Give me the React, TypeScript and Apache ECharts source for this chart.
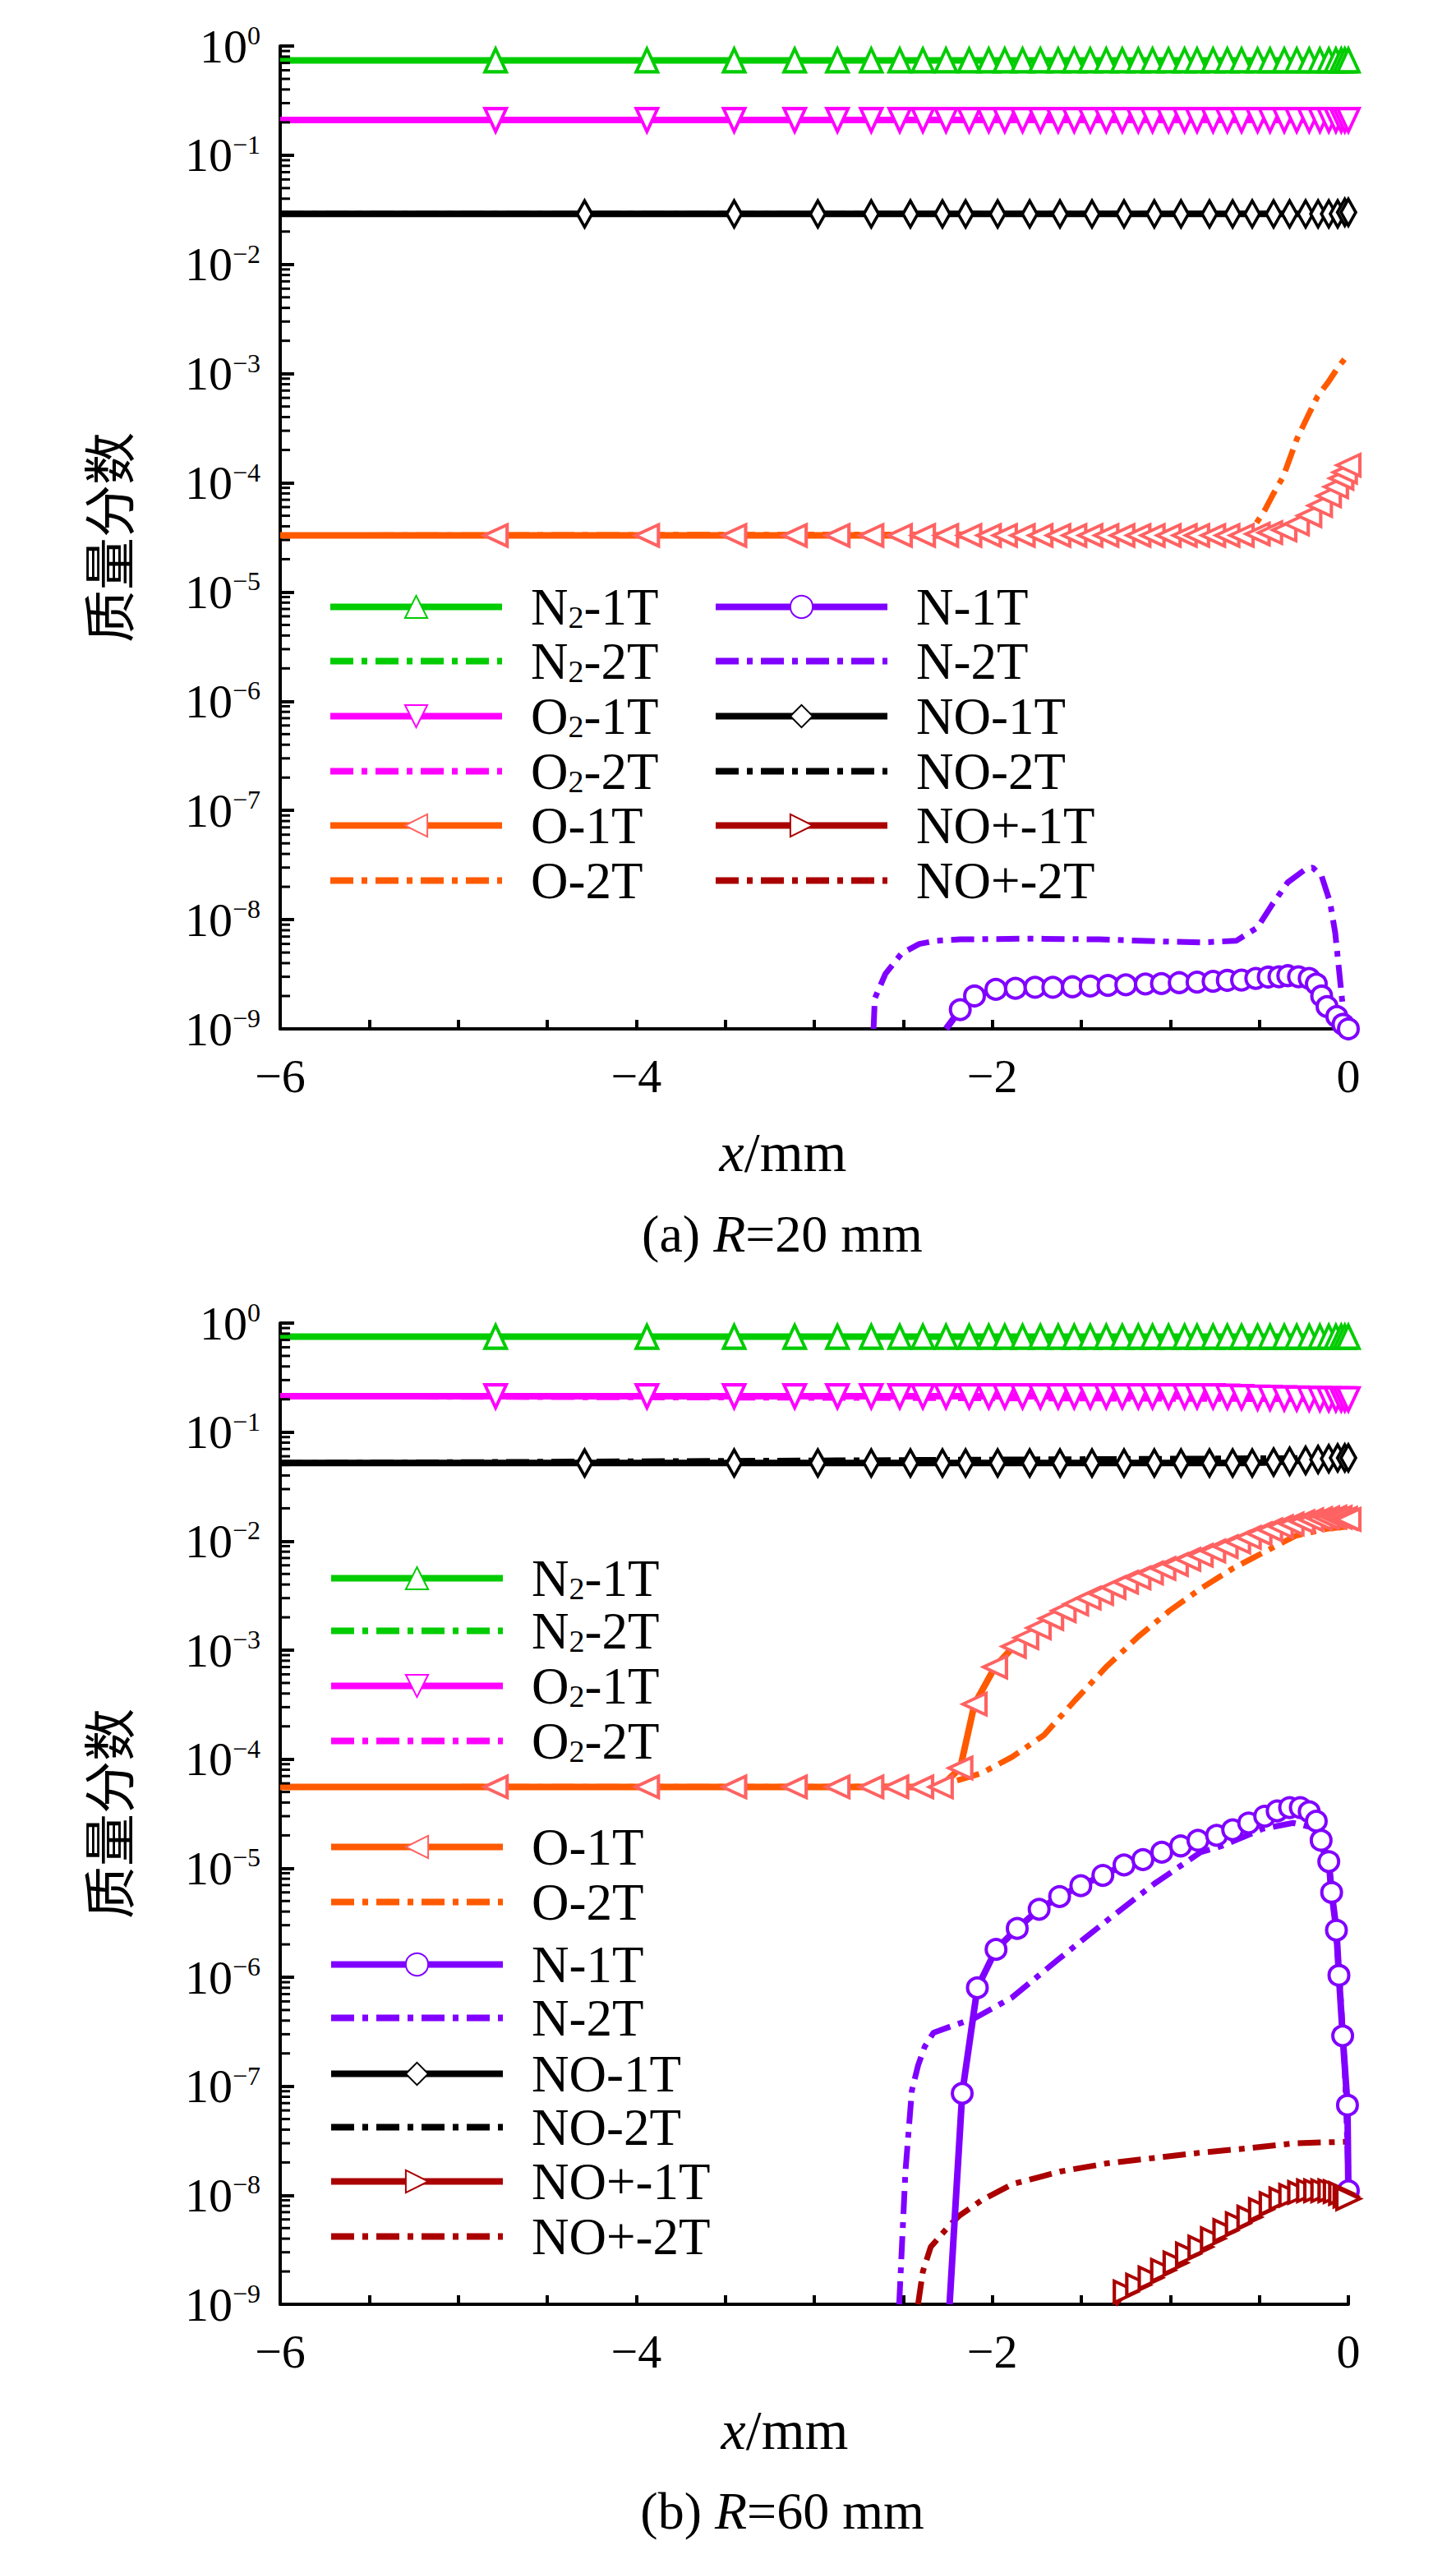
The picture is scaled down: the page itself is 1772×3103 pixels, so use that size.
import React, { useEffect, useRef } from 'react';
import * as echarts from 'echarts';

// ---- data (x in mm, values are mass fractions) ----

// grid points that carry markers on the flat curves
const xMesh = [-6, -4.79, -3.94, -3.45, -3.11, -2.87, -2.68, -2.52, -2.39, -2.26, -2.13, -2.02, -1.93, -1.83, -1.73,
  -1.63, -1.54, -1.45, -1.36, -1.27, -1.18, -1.1, -1.01, -0.92, -0.85, -0.76, -0.68, -0.6, -0.51, -0.44, -0.36,
  -0.29, -0.22, -0.16, -0.11, -0.07, -0.04, -0.02, 0];
const xNO = [-6, -4.29, -3.45, -2.98, -2.68, -2.46, -2.28, -2.15, -1.97, -1.79, -1.62, -1.44, -1.26, -1.09, -0.94,
  -0.78, -0.65, -0.54, -0.42, -0.33, -0.24, -0.17, -0.11, -0.06, -0.02, 0];
const xEnds = [-6, 0];

// (a) R = 20 mm
const aN2 = [0.74, 0.74, 0.74, 0.74, 0.74, 0.74, 0.74, 0.74, 0.74, 0.74, 0.74, 0.74, 0.74, 0.74, 0.74, 0.74, 0.74,
  0.74, 0.74, 0.74, 0.74, 0.74, 0.74, 0.74, 0.74, 0.74, 0.74, 0.74, 0.74, 0.74, 0.74, 0.74, 0.74, 0.74, 0.74, 0.74,
  0.74, 0.74, 0.74];
const aN2Flat = [0.74, 0.74];
const aO2 = [0.21, 0.21, 0.21, 0.21, 0.21, 0.21, 0.21, 0.21, 0.21, 0.21, 0.21, 0.21, 0.21, 0.21, 0.21, 0.21, 0.21,
  0.21, 0.21, 0.21, 0.21, 0.21, 0.21, 0.21, 0.21, 0.21, 0.21, 0.21, 0.21, 0.21, 0.21, 0.21, 0.21, 0.21, 0.21, 0.21,
  0.21, 0.21, 0.21];
const aO2Flat = [0.21, 0.21];
const aNO = [0.029, 0.029, 0.029, 0.029, 0.029, 0.029, 0.029, 0.029, 0.029, 0.029, 0.029, 0.029, 0.029, 0.029, 0.029,
  0.029, 0.029, 0.029, 0.029, 0.029, 0.029, 0.029, 0.029, 0.029, 0.03, 0.03];
const aNOFlat = [0.029, 0.029];
const aO1T = [3.3e-5, 3.3e-5, 3.3e-5, 3.3e-5, 3.3e-5, 3.3e-5, 3.3e-5, 3.3e-5, 3.3e-5, 3.3e-5, 3.3e-5, 3.3e-5, 3.3e-5,
  3.3e-5, 3.3e-5, 3.3e-5, 3.3e-5, 3.3e-5, 3.3e-5, 3.3e-5, 3.3e-5, 3.3e-5, 3.3e-5, 3.3e-5, 3.3e-5, 3.3e-5, 3.3e-5,
  3.3e-5, 3.4e-5, 3.5e-5, 3.7e-5, 4.2e-5, 5.0e-5, 6.2e-5, 7.6e-5, 9.2e-5, 1.1e-4, 1.25e-4, 1.45e-4];
const aO2Tx = [-6, -0.6, -0.52, -0.47, -0.42, -0.365, -0.29, -0.224, -0.173, -0.11, -0.057, 0];
const aO2T = [3.3e-5, 3.4e-5, 4.2e-5, 5.6e-5, 8.0e-5, 1.15e-4, 2.5e-4, 4.2e-4, 6.2e-4, 8.5e-4, 1.15e-3, 1.5e-3];
const aN1Tx = [-2.26, -2.18, -2.1, -1.98, -1.87, -1.76, -1.66, -1.55, -1.45, -1.35, -1.25, -1.14, -1.05, -0.95, -0.85,
  -0.76, -0.68, -0.6, -0.52, -0.45, -0.39, -0.34, -0.28, -0.22, -0.18, -0.15, -0.12, -0.065, -0.03, 0];
const aN1T = [1e-9, 1.5e-9, 2.0e-9, 2.3e-9, 2.35e-9, 2.4e-9, 2.4e-9, 2.43e-9, 2.47e-9, 2.5e-9, 2.53e-9, 2.58e-9,
  2.6e-9, 2.65e-9, 2.68e-9, 2.73e-9, 2.78e-9, 2.8e-9, 2.9e-9, 2.98e-9, 3.0e-9, 3.07e-9, 3.0e-9, 2.9e-9, 2.58e-9,
  2.0e-9, 1.6e-9, 1.3e-9, 1.1e-9, 1e-9];
const aN2Tx = [-2.667, -2.66, -2.6, -2.51, -2.41, -2.32, -2.18, -1.79, -1.4, -1.02, -0.82, -0.63, -0.51, -0.43, -0.34,
  -0.24, -0.2, -0.15, -0.103, -0.074, -0.055, -0.036, -0.015];
const aN2T = [1e-9, 1.9e-9, 3.2e-9, 4.9e-9, 6.0e-9, 6.4e-9, 6.6e-9, 6.7e-9, 6.6e-9, 6.3e-9, 6.2e-9, 6.4e-9, 8.5e-9,
  1.36e-8, 2.2e-8, 2.9e-8, 3.0e-8, 2.5e-8, 1.45e-8, 7.6e-9, 3.8e-9, 1.9e-9, 1e-9];
const aNOp: number[] = []; // NO+ stays below 1e-9 in (a)

// (b) R = 60 mm
const bN2 = [0.75, 0.75, 0.75, 0.75, 0.75, 0.75, 0.75, 0.75, 0.75, 0.75, 0.75, 0.75, 0.75, 0.75, 0.75, 0.75, 0.75,
  0.75, 0.75, 0.75, 0.75, 0.75, 0.75, 0.75, 0.75, 0.75, 0.75, 0.75, 0.75, 0.75, 0.75, 0.75, 0.75, 0.75, 0.75, 0.75,
  0.75, 0.75, 0.75];
const bN2Flat = [0.75, 0.75];
const bO2 = [0.213, 0.213, 0.213, 0.213, 0.213, 0.213, 0.213, 0.213, 0.213, 0.213, 0.213, 0.213, 0.213, 0.213, 0.213,
  0.213, 0.213, 0.213, 0.213, 0.213, 0.213, 0.213, 0.213, 0.213, 0.213, 0.213, 0.211, 0.209, 0.207, 0.206, 0.204,
  0.203, 0.202, 0.201, 0.2, 0.2, 0.2, 0.2, 0.2];
const bO2Flat = [0.213, 0.2];
const bNO = [0.052, 0.052, 0.052, 0.052, 0.052, 0.052, 0.052, 0.052, 0.052, 0.052, 0.052, 0.052, 0.052, 0.052, 0.052,
  0.052, 0.052, 0.052, 0.053, 0.054, 0.055, 0.056, 0.057, 0.058, 0.058, 0.058];
const bNOFlat = [0.052, 0.058];
const bO1Tx = [-6, -4.79, -3.94, -3.45, -3.11, -2.87, -2.68, -2.54, -2.4, -2.29, -2.18, -2.1, -1.985, -1.88, -1.81,
  -1.74, -1.67, -1.6, -1.53, -1.46, -1.39, -1.32, -1.25, -1.18, -1.11, -1.04, -0.97, -0.9, -0.83, -0.76, -0.69, -0.62,
  -0.56, -0.5, -0.44, -0.38, -0.32, -0.26, -0.21, -0.16, -0.12, -0.08, -0.05, -0.02, 0];
const bO1T = [5.56e-5, 5.56e-5, 5.56e-5, 5.56e-5, 5.56e-5, 5.56e-5, 5.56e-5, 5.56e-5, 5.56e-5, 5.56e-5, 8.3e-5, 3.2e-4,
  7.0e-4, 1.08e-3, 1.3e-3, 1.6e-3, 1.95e-3, 2.3e-3, 2.65e-3, 3.0e-3, 3.3e-3, 3.75e-3, 4.2e-3, 4.6e-3, 5.1e-3, 5.6e-3,
  6.1e-3, 6.8e-3, 7.4e-3, 8.1e-3, 8.9e-3, 9.8e-3, 1.08e-2, 1.17e-2, 1.27e-2, 1.36e-2, 1.44e-2, 1.51e-2, 1.57e-2,
  1.61e-2, 1.64e-2, 1.66e-2, 1.65e-2, 1.62e-2, 1.58e-2];
const bO2Tx = [-6, -2.3, -2.223, -2.063, -1.888, -1.71, -1.533, -1.357, -1.18, -1.004, -0.826, -0.65, -0.475, -0.297,
  -0.12, 0];
const bO2T = [5.56e-5, 5.6e-5, 6.2e-5, 7.4e-5, 1.05e-4, 1.66e-4, 3.5e-4, 7.1e-4, 1.33e-3, 2.3e-3, 3.7e-3, 5.6e-3,
  7.9e-3, 1.12e-2, 1.3e-2, 1.36e-2];
const bN1Tx = [-2.24, -2.169, -2.084, -1.979, -1.86, -1.737, -1.622, -1.503, -1.379, -1.26, -1.154, -1.048, -0.942,
  -0.845, -0.74, -0.65, -0.56, -0.47, -0.4, -0.33, -0.27, -0.22, -0.18, -0.153, -0.11, -0.094, -0.067, -0.053,
  -0.032, -0.005, 0];
const bN1T = [1e-9, 8.6e-8, 8.0e-7, 1.8e-6, 2.8e-6, 4.2e-6, 5.5e-6, 6.9e-6, 8.6e-6, 1.07e-5, 1.2e-5, 1.4e-5, 1.6e-5,
  1.8e-5, 2.0e-5, 2.25e-5, 2.6e-5, 3.0e-5, 3.35e-5, 3.6e-5, 3.6e-5, 3.3e-5, 2.7e-5, 1.8e-5, 1.15e-5, 6.0e-6,
  2.7e-6, 1.04e-6, 2.9e-7, 6.7e-8, 1.1e-8];
const bN2Tx = [-2.523, -2.488, -2.452, -2.417, -2.38, -2.33, -2.22, -2.1, -1.89, -1.62, -1.357, -1.09, -0.83, -0.71,
  -0.48, -0.31, -0.22, -0.15, -0.11, -0.08, -0.05, -0.02, 0];
const bN2T = [1e-9, 1.65e-8, 9.1e-8, 1.55e-7, 2.3e-7, 3.1e-7, 3.6e-7, 4.2e-7, 6.5e-7, 1.5e-6, 3.3e-6, 7.2e-6, 1.4e-5,
  1.6e-5, 2.3e-5, 2.6e-5, 2.4e-5, 1.6e-5, 1.0e-5, 4.0e-6, 1.0e-6, 1.5e-7, 1.5e-8];
const bNOp2Tx = [-2.417, -2.39, -2.346, -2.3, -2.24, -2.185, -2.06, -1.89, -1.62, -1.357, -1.09, -0.83, -0.56, -0.3, 0];
const bNOp2T = [1e-9, 2e-9, 3.35e-9, 4.1e-9, 5.3e-9, 6.5e-9, 9.0e-9, 1.26e-8, 1.65e-8, 1.96e-8, 2.2e-8, 2.46e-8,
  2.7e-8, 3.0e-8, 3.1e-8];
const bNOp1Tx = [-1.313, -1.25, -1.18, -1.11, -1.04, -0.97, -0.9, -0.83, -0.76, -0.69, -0.62, -0.555, -0.49, -0.43,
  -0.375, -0.32, -0.27, -0.22, -0.18, -0.14, -0.1, -0.07, -0.04, -0.015, 0];
const bNOp1T = [1e-9, 1.3e-9, 1.5e-9, 1.75e-9, 2.05e-9, 2.4e-9, 2.9e-9, 3.35e-9, 4.0e-9, 4.75e-9, 5.5e-9, 6.3e-9,
  7.4e-9, 8.4e-9, 9.3e-9, 1.0e-8, 1.06e-8, 1.1e-8, 1.1e-8, 1.1e-8, 1.1e-8, 1.08e-8, 1.04e-8, 9.8e-9, 9.3e-9];

// axis labels
const xTickLabels: Record<string, string> = { '-6': '−6', '-4': '−4', '-2': '−2', '0': '0' };
const minorDecades = [-9, -8, -7, -6, -5, -4, -3, -2, -1];
const minorSteps = [2, 3, 4, 5, 6, 7, 8, 9];

// legend labels with subscripts
const legendText: Record<string, string> = {
  'N2-1T': '{b|N}{s|2}{b|-1T}',
  'N2-2T': '{b|N}{s|2}{b|-2T}',
  'O2-1T': '{b|O}{s|2}{b|-1T}',
  'O2-2T': '{b|O}{s|2}{b|-2T}',
  'O-1T': '{b|O-1T}',
  'O-2T': '{b|O-2T}',
  'N-1T': '{b|N-1T}',
  'N-2T': '{b|N-2T}',
  'NO-1T': '{b|NO-1T}',
  'NO-2T': '{b|NO-2T}',
  'NO+-1T': '{b|NO+-1T}',
  'NO+-2T': '{b|NO+-2T}',
};

type Look = { color: string; mark?: string; markColor?: string; rotate?: number; size?: number[]; dash?: boolean };
const looks: Record<string, Look> = {
  'N2-1T': { color: '#00cc00', mark: 'triangle', size: [26, 28] },
  'N2-2T': { color: '#00cc00', dash: true },
  'O2-1T': { color: '#ff00ff', mark: 'triangle', rotate: 180, size: [26, 28] },
  'O2-2T': { color: '#ff00ff', dash: true },
  'O-1T': { color: '#ff5a00', markColor: '#ff6262', mark: 'triangle', rotate: 90, size: [26, 28] },
  'O-2T': { color: '#ff5a00', dash: true },
  'N-1T': { color: '#8000ff', mark: 'circle', size: [24, 24] },
  'N-2T': { color: '#8000ff', dash: true },
  'NO-1T': { color: '#000000', mark: 'diamond', size: [18, 32] },
  'NO-2T': { color: '#000000', dash: true },
  'NO+-1T': { color: '#aa0000', mark: 'triangle', rotate: -90, size: [26, 28] },
  'NO+-2T': { color: '#aa0000', dash: true },
};

const FONT = 'Liberation Serif';
const DASH = [28, 10, 7, 10];

function lineSeries(name: string, xs: number[], ys: number[], g: number) {
  const s = looks[name];
  return {
    type: 'line',
    name,
    xAxisIndex: g,
    yAxisIndex: g,
    data: xs.map((x, i) => [x, ys[i]]),
    symbol: s.mark ?? 'none',
    symbolRotate: s.rotate ?? 0,
    symbolSize: s.mark ? (_v: any, p: any) => (p.dataIndex === 0 ? 0 : s.size) : 0,
    showSymbol: !!s.mark,
    lineStyle: { color: s.color, width: s.dash ? 7 : 8, type: s.dash ? DASH : 'solid' },
    itemStyle: { color: '#fff', borderColor: s.markColor ?? s.color, borderWidth: 4 },
    z: s.dash ? 2 : 3,
    silent: true,
  };
}

function minorTickSeries(g: number) {
  const vals: number[][] = [];
  minorDecades.forEach((d) => minorSteps.forEach((m) => vals.push([-6, m * Math.pow(10, d)])));
  return {
    type: 'custom',
    xAxisIndex: g,
    yAxisIndex: g,
    silent: true,
    clip: false,
    z: 10,
    data: vals,
    renderItem: (_p: any, api: any) => {
      const pt = api.coord([api.value(0), api.value(1)]);
      return {
        type: 'line',
        shape: { x1: pt[0], y1: pt[1], x2: pt[0] + 12, y2: pt[1] },
        style: { stroke: '#000', lineWidth: 3 },
      };
    },
  };
}

function legendItem(name: string, left: number, center: number) {
  const s = looks[name];
  return {
    selectedMode: false,
    padding: 0,
    left,
    top: center - 32,
    itemWidth: 209,
    itemHeight: 34,
    data: [s.dash ? { name, itemStyle: { opacity: 0 } } : { name }],
    lineStyle: { width: s.dash ? 8 : 8 },
    formatter: (n: string) => legendText[n],
    textStyle: {
      fontFamily: FONT,
      fontSize: 63,
      color: '#000',
      padding: [0, 0, 0, 30],
      rich: {
        b: { fontFamily: FONT, fontSize: 63, color: '#000' },
        s: { fontFamily: FONT, fontSize: 38, color: '#000', padding: [24, 0, 0, 0] },
      },
    },
  };
}

function xAxis(g: number) {
  return {
    type: 'value',
    gridIndex: g,
    min: -6,
    max: 0,
    interval: 0.5,
    axisLine: { show: true, onZero: false, lineStyle: { color: '#000', width: 4 } },
    axisTick: { inside: true, length: 11, lineStyle: { color: '#000', width: 4 } },
    axisLabel: {
      formatter: (v: number) => xTickLabels[String(v)] ?? '',
      fontFamily: FONT,
      fontSize: 58,
      color: '#000',
      margin: 28,
    },
    splitLine: { show: false },
  };
}

function yAxis(g: number) {
  return {
    type: 'log',
    gridIndex: g,
    logBase: 10,
    min: 1e-9,
    max: 1,
    splitNumber: 9,
    name: '质量分数',
    nameLocation: 'middle',
    nameGap: 180,
    nameTextStyle: { fontFamily: 'Noto Sans CJK SC', fontSize: 64, color: '#000' },
    axisLine: { show: true, onZero: false, lineStyle: { color: '#000', width: 4 } },
    axisTick: { show: true, inside: true, length: 17, lineStyle: { color: '#000', width: 4 } },
    axisLabel: {
      formatter: (v: number) => {
        const e = Math.round(Math.log10(v));
        return `{b|10}{s|${e === 0 ? '0' : '−' + -e}}`;
      },
      margin: 24,
      rich: {
        b: { fontFamily: FONT, fontSize: 58, color: '#000' },
        s: { fontFamily: FONT, fontSize: 32, color: '#000', padding: [0, 0, 26, 0] },
      },
    },
    splitLine: { show: false },
  };
}

function caption(text: string, x: number, y: number, size: number) {
  return {
    type: 'text',
    x,
    y,
    style: {
      text,
      fill: '#000',
      fontFamily: FONT,
      fontSize: size,
      align: 'center',
      verticalAlign: 'middle',
      rich: { i: { fontFamily: FONT, fontSize: size, fontStyle: 'italic', fill: '#000' } },
    },
  };
}

const App: React.FC = () => {
  const chartRef = useRef<HTMLDivElement>(null);

  useEffect(() => {
    if (!chartRef.current) return;
    const chart = echarts.init(chartRef.current, undefined, { renderer: 'svg' });

    const colA = ['N2-1T', 'N2-2T', 'O2-1T', 'O2-2T', 'O-1T', 'O-2T'];
    const colB = ['N-1T', 'N-2T', 'NO-1T', 'NO-2T', 'NO+-1T', 'NO+-2T'];
    const rowsA = [739, 805, 872, 939, 1005, 1072];
    const rowsB = [1921, 1985, 2052, 2119, 2248, 2315, 2391, 2456, 2524, 2589, 2655, 2722];

    const legends = [
      ...colA.map((n, i) => legendItem(n, 398, rowsA[i])),
      ...colB.map((n, i) => legendItem(n, 867, rowsA[i])),
      ...[...colA, ...colB].map((n, i) => legendItem(n, 399, rowsB[i])),
    ];

    const option: any = {
      animation: false,
      backgroundColor: '#fff',
      textStyle: { fontFamily: FONT },
      grid: [
        { left: 341, top: 56, width: 1300, height: 1196 },
        { left: 341, top: 1610, width: 1300, height: 1194 },
      ],
      xAxis: [xAxis(0), xAxis(1)],
      yAxis: [yAxis(0), yAxis(1)],
      legend: legends,
      graphic: [
        caption('{i|x}/mm', 953, 1402, 68),
        caption('(a) {i|R}=20 mm', 952, 1501, 64),
        caption('{i|x}/mm', 955, 2957, 68),
        caption('(b) {i|R}=60 mm', 952, 3055, 64),
      ],
      series: [
        // (a)
        lineSeries('N2-2T', xEnds, aN2Flat, 0),
        lineSeries('N2-1T', xMesh, aN2, 0),
        lineSeries('O2-2T', xEnds, aO2Flat, 0),
        lineSeries('O2-1T', xMesh, aO2, 0),
        lineSeries('NO-2T', xEnds, aNOFlat, 0),
        lineSeries('NO-1T', xNO, aNO, 0),
        lineSeries('O-2T', aO2Tx, aO2T, 0),
        lineSeries('O-1T', xMesh, aO1T, 0),
        lineSeries('N-2T', aN2Tx, aN2T, 0),
        lineSeries('N-1T', aN1Tx, aN1T, 0),
        lineSeries('NO+-2T', aNOp, aNOp, 0),
        lineSeries('NO+-1T', aNOp, aNOp, 0),
        minorTickSeries(0),
        // (b)
        lineSeries('N2-2T', xEnds, bN2Flat, 1),
        lineSeries('N2-1T', xMesh, bN2, 1),
        lineSeries('O2-2T', xEnds, bO2Flat, 1),
        lineSeries('O2-1T', xMesh, bO2, 1),
        lineSeries('NO-2T', xEnds, bNOFlat, 1),
        lineSeries('NO-1T', xNO, bNO, 1),
        lineSeries('O-2T', bO2Tx, bO2T, 1),
        lineSeries('O-1T', bO1Tx, bO1T, 1),
        lineSeries('N-2T', bN2Tx, bN2T, 1),
        lineSeries('N-1T', bN1Tx, bN1T, 1),
        lineSeries('NO+-2T', bNOp2Tx, bNOp2T, 1),
        lineSeries('NO+-1T', bNOp1Tx, bNOp1T, 1),
        minorTickSeries(1),
      ],
    };

    chart.setOption(option);

    return () => {
      chart.dispose();
    };
  }, []);

  return (
    <div
      ref={chartRef}
      style={{ position: 'absolute', left: 0, top: 0, width: '1772px', height: '3103px', background: '#fff' }}
    ></div>
  );
};

export default App;
